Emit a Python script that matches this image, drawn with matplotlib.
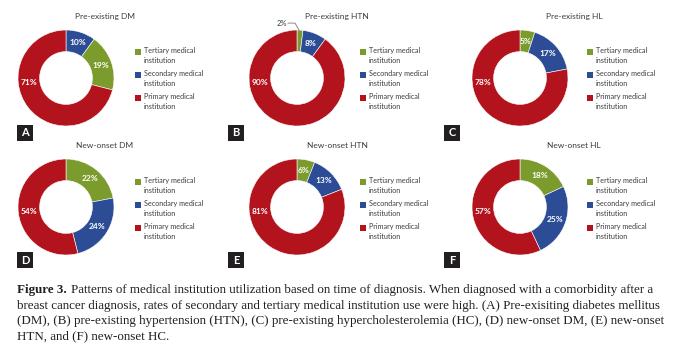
import matplotlib.pyplot as plt
from matplotlib.patches import Rectangle
import numpy as np

W, H = 680, 354

titles = ['Pre-existing DM', 'Pre-existing HTN', 'Pre-existing HL',
          'New-onset DM', 'New-onset HTN', 'New-onset HL']
letters = ['A', 'B', 'C', 'D', 'E', 'F']
tertiary = [19, 2, 5, 22, 6, 18]
secondary = [10, 8, 17, 24, 13, 25]
primary = [71, 90, 78, 54, 81, 57]
# panel A starts with the secondary slice at 12 o'clock
blue_first = [True, False, False, False, False, False]
legend_labels = ['Tertiary medical\ninstitution',
                 'Secondary medical\ninstitution',
                 'Primary medical\ninstitution']

caption_lines = [
    'Patterns of medical institution utilization based on time of diagnosis. When diagnosed with a comorbidity after a',
    'breast cancer diagnosis, rates of secondary and tertiary medical institution use were high. (A) Pre-exisiting diabetes mellitus',
    '(DM), (B) pre-existing hypertension (HTN), (C) pre-existing hypercholesterolemia (HC), (D) new-onset DM, (E) new-onset',
    'HTN, and (F) new-onset HC.',
]

green, blue, red = '#7b9b2c', '#2c4d96', '#b3131c'
colors = [green, blue, red]
txt_gray = '#3d3d3d'
sans = 'Lato'

# layout (pixels, measured from top)
col_cx = [66, 297, 520]
row_cy = [78, 207]
R = 48
title_x = [105, 337, 574]
title_y = [16, 146]
leg_x = [135, 360, 587]
leg_y = [52, 182]
box_x = [17, 228, 444]
box_y = [125, 252]

fig = plt.figure(figsize=(6.8, 3.54), dpi=100)
ax = fig.add_axes([0, 0, 1, 1])

for i in range(6):
    r, c = divmod(i, 3)
    cx, cy = col_cx[c], H - row_cy[r]
    vals = [tertiary[i], secondary[i], primary[i]]
    order = [1, 0, 2] if blue_first[i] else [0, 1, 2]
    wedges, _ = ax.pie([vals[k] for k in order], colors=[colors[k] for k in order],
                       center=(cx, cy), radius=R, startangle=90, counterclock=False,
                       wedgeprops=dict(width=R * 0.45, edgecolor='white', linewidth=0.4))
    for w, k in zip(wedges, order):
        v = vals[k]
        mid = np.deg2rad((w.theta1 + w.theta2) / 2)
        if k == 2:
            mid = np.deg2rad(187)
        if v < 4:
            # tiny slice: label outside with a leader line
            px, py = cx + R * np.cos(mid), cy + R * np.sin(mid)
            ax.plot([px - 1, px - 5, px - 12], [py, py + 7, py + 7],
                    color='#777777', lw=0.6)
            ax.text(px - 13, py + 7, f'{v}%', ha='right', va='center',
                    fontsize=5.5, color=txt_gray, family=sans)
        else:
            rr = R * 0.775
            ax.text(cx + rr * np.cos(mid), cy + rr * np.sin(mid), f'{v}%',
                    ha='center', va='center', fontsize=6, fontweight='bold',
                    color='white', family=sans)

    ax.text(title_x[c], H - title_y[r], titles[i], ha='center', va='center',
            fontsize=6, color=txt_gray, family=sans)

    for j, lab in enumerate(legend_labels):
        y = leg_y[r] + 23 * j
        ax.add_patch(Rectangle((leg_x[c], H - y - 3), 6, 6, color=colors[j], lw=0))
        ax.text(leg_x[c] + 9, H - y + 5, lab, ha='left', va='top', fontsize=5.2,
                color=txt_gray, family=sans, linespacing=1.5)

    ax.add_patch(Rectangle((box_x[c], H - box_y[r] - 16), 16, 16, color='#231f20', lw=0))
    ax.text(box_x[c] + 8, H - box_y[r] - 8, letters[i], ha='center', va='center',
            fontsize=8, fontweight='bold', color='white', family=sans)

# caption
cap_fs = 9.4
cap_y = [290, 305.5, 321, 336.5]
fig_t = ax.text(17, H - cap_y[0], 'Figure 3.', ha='left', va='center', fontsize=cap_fs,
                fontweight='bold', color='#231f20', family='Liberation Serif')
ax.annotate(caption_lines[0], xy=(1, 0.5), xycoords=fig_t, xytext=(3, 0),
            textcoords='offset points', ha='left', va='center', fontsize=cap_fs,
            color='#231f20', family='Liberation Serif')
for line, y in zip(caption_lines[1:], cap_y[1:]):
    ax.text(17, H - y, line, ha='left', va='center', fontsize=cap_fs,
            color='#231f20', family='Liberation Serif')

ax.set_xlim(0, W)
ax.set_ylim(0, H)
ax.axis('off')

fig.savefig('out.png', dpi=100)
